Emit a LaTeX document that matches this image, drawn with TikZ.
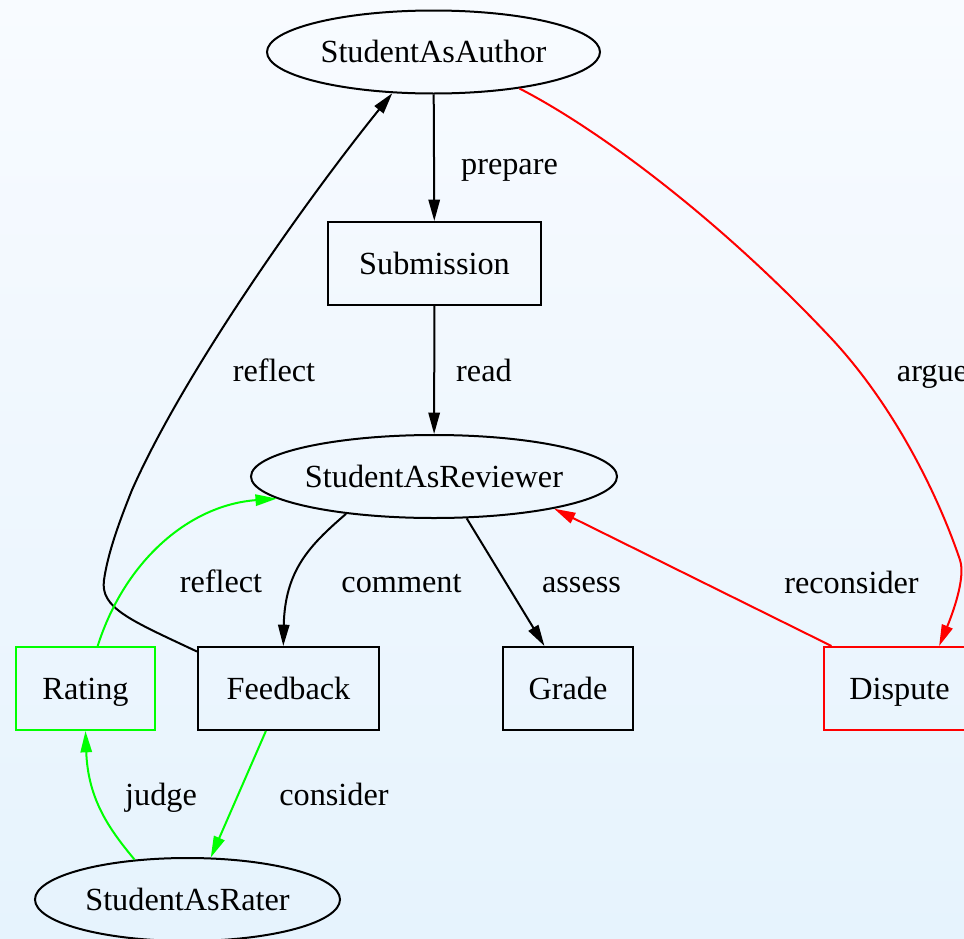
\documentclass[tikz,border=0pt]{standalone}
\usepackage{fontspec}
\setmainfont{Liberation Serif}
\usetikzlibrary{arrows.meta,shapes.geometric}
\definecolor{bgtop}{RGB}{248,251,255}
\definecolor{bgbot}{RGB}{230,243,253}
\definecolor{grn}{RGB}{0,255,0}
\definecolor{rd}{RGB}{255,0,0}

\begin{document}
\begin{tikzpicture}[x=0.75pt,y=-0.75pt,
    every node/.style={font=\fontsize{24.2}{29}\selectfont, text height=16pt, text depth=0pt, inner sep=0pt},
    actor/.style={draw, line width=1.5pt, ellipse, minimum height=62.25pt},
    item/.style={draw, line width=1.5pt, rectangle, minimum height=62.25pt},
    flow/.style={line width=1.5pt, -{Triangle[length=16pt,width=8.5pt]}}]
      \shade[top color=bgtop, bottom color=bgbot] (0,0) rectangle (964,939);
      \useasboundingbox (0,0) rectangle (964,939);

      \node[actor, minimum width=249.75pt] (au)  at (433.5, 52)   {StudentAsAuthor};
      \node[item,  minimum width=159.75pt] (sub) at (434.5,263.5) {Submission};
      \node[actor, minimum width=274.5pt]  (rev) at (434,  476.5) {StudentAsReviewer};
      \node[item, draw=grn, minimum width=104.25pt] (rat) at (85.5,688.5) {Rating};
      \node[item,  minimum width=135.75pt] (fb)  at (288.5,688.5) {Feedback};
      \node[item,  minimum width=97.5pt]   (gr)  at (568,  688.5) {Grade};
      \node[item, draw=rd, minimum width=113.25pt] (dp) at (899.5,688.5) {Dispute};
      \node[actor, minimum width=228.75pt] (rtr) at (187.5,899.5) {StudentAsRater};

      \node (lprep)  at (509.5,164) {prepare};
      \node (lread)  at (484,  371) {read};
      \node (lrefa)  at (274,  371) {reflect};
      \node (largue) at (932.5,371) {argue};
      \node (lrefb)  at (221,  582) {reflect};
      \node (lcomm)  at (401.5,582) {comment};
      \node (lass)   at (581.5,582) {assess};
      \node (lrec)   at (851.5,583) {reconsider};
      \node (ljudge) at (161,  795) {judge};
      \node (lcons)  at (334,  795) {consider};

      \draw[flow] (au) -- (sub);
      \draw[flow] (sub) -- (rev);
      \draw[flow] (fb.158) .. controls (130,620) and (100,608) .. (104,580)
        .. controls (108,552) and (120,520) .. (132,490)
        .. controls (185,370) and (310,195) .. (au.225);
      \draw[flow, rd] (au.337) .. controls (600,130) and (720,220) .. (830,337)
        .. controls (894,405) and (938,495) .. (960,560)
        .. controls (966,578) and (952,615) .. (dp.47.5);
      \draw[flow] (rev.203.5) .. controls (310,545) and (285,570) .. (fb.97);
      \draw[flow] (rev.308) -- (gr.119);
      \draw[flow, rd] (dp.148) -- (rev.345);
      \draw[flow, grn] (rat.74.5) .. controls (125,560) and (190,505) .. (rev.188);
      \draw[flow, grn] (fb.242) -- (rtr.61.5);
      \draw[flow, grn] (rtr.143) .. controls (110,830) and (88,800) .. (rat.270);
    \end{tikzpicture}
\end{document}
